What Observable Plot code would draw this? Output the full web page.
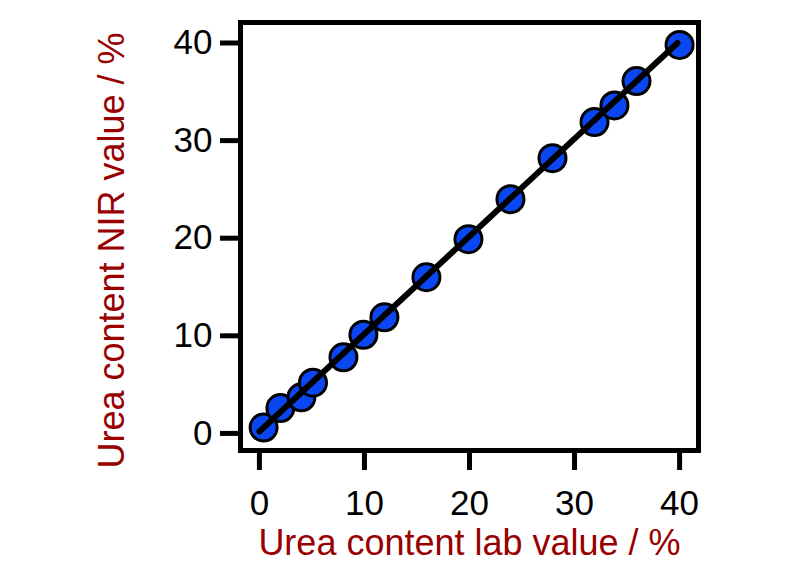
<!DOCTYPE html>
<html>
<head>
<meta charset="utf-8">
<script src="https://cdn.jsdelivr.net/npm/d3@7"></script>
<script src="https://cdn.jsdelivr.net/npm/@observablehq/plot@0.6"></script>
<style>
  html, body { margin: 0; padding: 0; background: #fff; }
  svg { display: block; }
</style>
</head>
<body>
<div id="chart"></div>
<script>
// Lab reference values (%) and NIR predicted values (%)
const labValues = [0.4, 2.0, 4.0, 5.1, 8.0, 9.9, 11.9, 15.9, 19.9, 23.9, 27.9, 31.9, 33.8, 35.9, 40.0];
const nirValues = [0.6, 2.6, 3.7, 5.2, 7.8, 10.1, 11.9, 16.0, 19.9, 24.0, 28.2, 31.9, 33.6, 36.1, 39.8];
// Regression line end points
const fitX = [0.0, 39.8];
const fitY = [0.2, 40.0];
const xTicks = [0, 10, 20, 30, 40];
const yTicks = [0, 10, 20, 30, 40];
const xLabel = "Urea content lab value / %";
const yLabel = "Urea content NIR value / %";

const points = labValues.map((x, i) => ({x, y: nirValues[i]}));
const fit = fitX.map((x, i) => ({x, y: fitY[i]}));

const font = "'Liberation Sans', Arial, sans-serif";
const labelColor = "#990000";

const chart = Plot.plot({
  width: 800,
  height: 565,
  marginLeft: 240,
  marginRight: 102,
  marginTop: 22,
  marginBottom: 115,
  style: {fontFamily: font, background: "#fff"},
  x: {domain: [-1.8, 41.8]},
  y: {domain: [-1.75, 42.1]},
  marks: [
    Plot.dot(points, {x: "x", y: "y", r: 13.5, fill: "#0a47f2", stroke: "#000", strokeWidth: 3}),
    Plot.line(fit, {x: "x", y: "y", stroke: "#000", strokeWidth: 6}),
    Plot.frame({stroke: "#000", strokeWidth: 5}),
    Plot.axisX({ticks: xTicks, tickSize: 20, tickPadding: 20, strokeWidth: 5, fontSize: 35, fill: "#000", label: null, tickFormat: d => String(d)}),
    Plot.axisY({ticks: yTicks, tickSize: 20, tickPadding: 8, strokeWidth: 5, fontSize: 35, fill: "#000", label: null, tickFormat: d => String(d)}),
    Plot.text([xLabel], {text: d => d, frameAnchor: "bottom", dy: 93, lineAnchor: "middle", textAnchor: "middle", fontSize: 36, fill: labelColor}),
    Plot.text([yLabel], {text: d => d, frameAnchor: "left", rotate: -90, dx: -128, dy: 14, lineAnchor: "middle", textAnchor: "middle", fontSize: 36, fill: labelColor})
  ]
});
document.getElementById("chart").appendChild(chart);
</script>
</body>
</html>
